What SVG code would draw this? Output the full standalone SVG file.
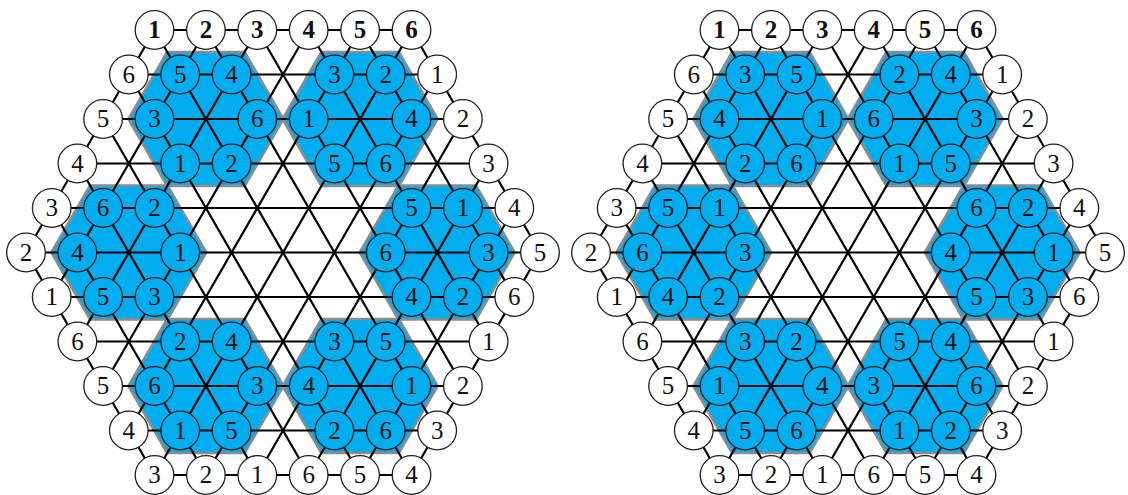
<svg xmlns="http://www.w3.org/2000/svg" xmlns:xlink="http://www.w3.org/1999/xlink" width="1128" height="495" viewBox="0 0 1128 495">
<style>
.w circle{fill:#fff;stroke:#1e1e1e;stroke-width:1.3}
.b circle{fill:#00aeef;stroke:#1a1a1a;stroke-width:1.3}
text{font-family:"Liberation Serif","DejaVu Serif",serif;font-size:25px;text-anchor:middle;fill:#111}
.bd text{font-weight:bold}
.hex{fill:#00aeef;stroke:#8c8c8c;stroke-width:2.5;stroke-linejoin:round}
.ln{stroke:#000;stroke-width:2.2;fill:none}
</style>
<defs>
<polygon id="hx" class="hex" points="-77.5,0 -38.75,-67.1 38.75,-67.1 77.5,0 38.75,67.1 -38.75,67.1"/>
<path id="lat" class="ln" d="M-128.5,-222.5H128.5M-154.2,-178H154.2M-179.9,-133.5H179.9M-205.6,-89H205.6M-231.3,-44.5H231.3M-257,0H257M-231.3,44.5H231.3M-205.6,89H205.6M-179.9,133.5H179.9M-154.2,178H154.2M-128.5,222.5H128.5M-257,0L-128.5,222.5M-231.3,-44.5L-77.1,222.5M-205.6,-89L-25.7,222.5M-179.9,-133.5L25.7,222.5M-154.2,-178L77.1,222.5M-128.5,-222.5L128.5,222.5M-77.1,-222.5L154.2,178M-25.7,-222.5L179.9,133.5M25.7,-222.5L205.6,89M77.1,-222.5L231.3,44.5M128.5,-222.5L257,0M257,0L128.5,222.5M231.3,-44.5L77.1,222.5M205.6,-89L25.7,222.5M179.9,-133.5L-25.7,222.5M154.2,-178L-77.1,222.5M128.5,-222.5L-128.5,222.5M77.1,-222.5L-154.2,178M25.7,-222.5L-179.9,133.5M-25.7,-222.5L-205.6,89M-77.1,-222.5L-231.3,44.5M-128.5,-222.5L-257,0"/>
</defs>
<g id="regions">
<g transform="translate(283,252.5)">
<use href="#hx" x="-77.1" y="-133.5"/><use href="#hx" x="77.1" y="-133.5"/>
<use href="#hx" x="-154.2" y="0"/><use href="#hx" x="154.2" y="0"/>
<use href="#hx" x="-77.1" y="133.5"/><use href="#hx" x="77.1" y="133.5"/>
</g>
<g transform="translate(848,252.5)">
<use href="#hx" x="-77.1" y="-133.5"/><use href="#hx" x="77.1" y="-133.5"/>
<use href="#hx" x="-154.2" y="0"/><use href="#hx" x="154.2" y="0"/>
<use href="#hx" x="-77.1" y="133.5"/><use href="#hx" x="77.1" y="133.5"/>
</g>
</g>
<g id="connectors">
<use href="#lat" transform="translate(283,252.5)"/>
<use href="#lat" transform="translate(848,252.5)"/>
</g>
<g id="figA" transform="translate(283,252.5)">
<g id="A-o01" class="w bd" transform="translate(-128.5,-222.5)"><circle r="19.3"/><text y="8.2">1</text></g>
<g id="A-o02" class="w bd" transform="translate(-77.1,-222.5)"><circle r="19.3"/><text y="8.2">2</text></g>
<g id="A-o03" class="w bd" transform="translate(-25.7,-222.5)"><circle r="19.3"/><text y="8.2">3</text></g>
<g id="A-o04" class="w bd" transform="translate(25.7,-222.5)"><circle r="19.3"/><text y="8.2">4</text></g>
<g id="A-o05" class="w bd" transform="translate(77.1,-222.5)"><circle r="19.3"/><text y="8.2">5</text></g>
<g id="A-o06" class="w bd" transform="translate(128.5,-222.5)"><circle r="19.3"/><text y="8.2">6</text></g>
<g id="A-o07" class="w" transform="translate(154.2,-178)"><circle r="19.3"/><text y="8.2">1</text></g>
<g id="A-o08" class="w" transform="translate(179.9,-133.5)"><circle r="19.3"/><text y="8.2">2</text></g>
<g id="A-o09" class="w" transform="translate(205.6,-89)"><circle r="19.3"/><text y="8.2">3</text></g>
<g id="A-o10" class="w" transform="translate(231.3,-44.5)"><circle r="19.3"/><text y="8.2">4</text></g>
<g id="A-o11" class="w" transform="translate(257,0)"><circle r="19.3"/><text y="8.2">5</text></g>
<g id="A-o12" class="w" transform="translate(231.3,44.5)"><circle r="19.3"/><text y="8.2">6</text></g>
<g id="A-o13" class="w" transform="translate(205.6,89)"><circle r="19.3"/><text y="8.2">1</text></g>
<g id="A-o14" class="w" transform="translate(179.9,133.5)"><circle r="19.3"/><text y="8.2">2</text></g>
<g id="A-o15" class="w" transform="translate(154.2,178)"><circle r="19.3"/><text y="8.2">3</text></g>
<g id="A-o16" class="w" transform="translate(128.5,222.5)"><circle r="19.3"/><text y="8.2">4</text></g>
<g id="A-o17" class="w" transform="translate(77.1,222.5)"><circle r="19.3"/><text y="8.2">5</text></g>
<g id="A-o18" class="w" transform="translate(25.7,222.5)"><circle r="19.3"/><text y="8.2">6</text></g>
<g id="A-o19" class="w" transform="translate(-25.7,222.5)"><circle r="19.3"/><text y="8.2">1</text></g>
<g id="A-o20" class="w" transform="translate(-77.1,222.5)"><circle r="19.3"/><text y="8.2">2</text></g>
<g id="A-o21" class="w" transform="translate(-128.5,222.5)"><circle r="19.3"/><text y="8.2">3</text></g>
<g id="A-o22" class="w" transform="translate(-154.2,178)"><circle r="19.3"/><text y="8.2">4</text></g>
<g id="A-o23" class="w" transform="translate(-179.9,133.5)"><circle r="19.3"/><text y="8.2">5</text></g>
<g id="A-o24" class="w" transform="translate(-205.6,89)"><circle r="19.3"/><text y="8.2">6</text></g>
<g id="A-o25" class="w" transform="translate(-231.3,44.5)"><circle r="19.3"/><text y="8.2">1</text></g>
<g id="A-o26" class="w" transform="translate(-257,0)"><circle r="19.3"/><text y="8.2">2</text></g>
<g id="A-o27" class="w" transform="translate(-231.3,-44.5)"><circle r="19.3"/><text y="8.2">3</text></g>
<g id="A-o28" class="w" transform="translate(-205.6,-89)"><circle r="19.3"/><text y="8.2">4</text></g>
<g id="A-o29" class="w" transform="translate(-179.9,-133.5)"><circle r="19.3"/><text y="8.2">5</text></g>
<g id="A-o30" class="w" transform="translate(-154.2,-178)"><circle r="19.3"/><text y="8.2">6</text></g>
<g id="A-tl-nw" class="b" transform="translate(-102.8,-178)"><circle r="19.3"/><text y="8.2">5</text></g>
<g id="A-tl-ne" class="b" transform="translate(-51.4,-178)"><circle r="19.3"/><text y="8.2">4</text></g>
<g id="A-tl-w" class="b" transform="translate(-128.5,-133.5)"><circle r="19.3"/><text y="8.2">3</text></g>
<g id="A-tl-e" class="b" transform="translate(-25.7,-133.5)"><circle r="19.3"/><text y="8.2">6</text></g>
<g id="A-tl-sw" class="b" transform="translate(-102.8,-89)"><circle r="19.3"/><text y="8.2">1</text></g>
<g id="A-tl-se" class="b" transform="translate(-51.4,-89)"><circle r="19.3"/><text y="8.2">2</text></g>
<g id="A-tr-nw" class="b" transform="translate(51.4,-178)"><circle r="19.3"/><text y="8.2">3</text></g>
<g id="A-tr-ne" class="b" transform="translate(102.8,-178)"><circle r="19.3"/><text y="8.2">2</text></g>
<g id="A-tr-w" class="b" transform="translate(25.7,-133.5)"><circle r="19.3"/><text y="8.2">1</text></g>
<g id="A-tr-e" class="b" transform="translate(128.5,-133.5)"><circle r="19.3"/><text y="8.2">4</text></g>
<g id="A-tr-sw" class="b" transform="translate(51.4,-89)"><circle r="19.3"/><text y="8.2">5</text></g>
<g id="A-tr-se" class="b" transform="translate(102.8,-89)"><circle r="19.3"/><text y="8.2">6</text></g>
<g id="A-ml-nw" class="b" transform="translate(-179.9,-44.5)"><circle r="19.3"/><text y="8.2">6</text></g>
<g id="A-ml-ne" class="b" transform="translate(-128.5,-44.5)"><circle r="19.3"/><text y="8.2">2</text></g>
<g id="A-ml-w" class="b" transform="translate(-205.6,0)"><circle r="19.3"/><text y="8.2">4</text></g>
<g id="A-ml-e" class="b" transform="translate(-102.8,0)"><circle r="19.3"/><text y="8.2">1</text></g>
<g id="A-ml-sw" class="b" transform="translate(-179.9,44.5)"><circle r="19.3"/><text y="8.2">5</text></g>
<g id="A-ml-se" class="b" transform="translate(-128.5,44.5)"><circle r="19.3"/><text y="8.2">3</text></g>
<g id="A-mr-nw" class="b" transform="translate(128.5,-44.5)"><circle r="19.3"/><text y="8.2">5</text></g>
<g id="A-mr-ne" class="b" transform="translate(179.9,-44.5)"><circle r="19.3"/><text y="8.2">1</text></g>
<g id="A-mr-w" class="b" transform="translate(102.8,0)"><circle r="19.3"/><text y="8.2">6</text></g>
<g id="A-mr-e" class="b" transform="translate(205.6,0)"><circle r="19.3"/><text y="8.2">3</text></g>
<g id="A-mr-sw" class="b" transform="translate(128.5,44.5)"><circle r="19.3"/><text y="8.2">4</text></g>
<g id="A-mr-se" class="b" transform="translate(179.9,44.5)"><circle r="19.3"/><text y="8.2">2</text></g>
<g id="A-bl-nw" class="b" transform="translate(-102.8,89)"><circle r="19.3"/><text y="8.2">2</text></g>
<g id="A-bl-ne" class="b" transform="translate(-51.4,89)"><circle r="19.3"/><text y="8.2">4</text></g>
<g id="A-bl-w" class="b" transform="translate(-128.5,133.5)"><circle r="19.3"/><text y="8.2">6</text></g>
<g id="A-bl-e" class="b" transform="translate(-25.7,133.5)"><circle r="19.3"/><text y="8.2">3</text></g>
<g id="A-bl-sw" class="b" transform="translate(-102.8,178)"><circle r="19.3"/><text y="8.2">1</text></g>
<g id="A-bl-se" class="b" transform="translate(-51.4,178)"><circle r="19.3"/><text y="8.2">5</text></g>
<g id="A-br-nw" class="b" transform="translate(51.4,89)"><circle r="19.3"/><text y="8.2">3</text></g>
<g id="A-br-ne" class="b" transform="translate(102.8,89)"><circle r="19.3"/><text y="8.2">5</text></g>
<g id="A-br-w" class="b" transform="translate(25.7,133.5)"><circle r="19.3"/><text y="8.2">4</text></g>
<g id="A-br-e" class="b" transform="translate(128.5,133.5)"><circle r="19.3"/><text y="8.2">1</text></g>
<g id="A-br-sw" class="b" transform="translate(51.4,178)"><circle r="19.3"/><text y="8.2">2</text></g>
<g id="A-br-se" class="b" transform="translate(102.8,178)"><circle r="19.3"/><text y="8.2">6</text></g>
</g>
<g id="figB" transform="translate(848,252.5)">
<g id="B-o01" class="w bd" transform="translate(-128.5,-222.5)"><circle r="19.3"/><text y="8.2">1</text></g>
<g id="B-o02" class="w bd" transform="translate(-77.1,-222.5)"><circle r="19.3"/><text y="8.2">2</text></g>
<g id="B-o03" class="w bd" transform="translate(-25.7,-222.5)"><circle r="19.3"/><text y="8.2">3</text></g>
<g id="B-o04" class="w bd" transform="translate(25.7,-222.5)"><circle r="19.3"/><text y="8.2">4</text></g>
<g id="B-o05" class="w bd" transform="translate(77.1,-222.5)"><circle r="19.3"/><text y="8.2">5</text></g>
<g id="B-o06" class="w bd" transform="translate(128.5,-222.5)"><circle r="19.3"/><text y="8.2">6</text></g>
<g id="B-o07" class="w" transform="translate(154.2,-178)"><circle r="19.3"/><text y="8.2">1</text></g>
<g id="B-o08" class="w" transform="translate(179.9,-133.5)"><circle r="19.3"/><text y="8.2">2</text></g>
<g id="B-o09" class="w" transform="translate(205.6,-89)"><circle r="19.3"/><text y="8.2">3</text></g>
<g id="B-o10" class="w" transform="translate(231.3,-44.5)"><circle r="19.3"/><text y="8.2">4</text></g>
<g id="B-o11" class="w" transform="translate(257,0)"><circle r="19.3"/><text y="8.2">5</text></g>
<g id="B-o12" class="w" transform="translate(231.3,44.5)"><circle r="19.3"/><text y="8.2">6</text></g>
<g id="B-o13" class="w" transform="translate(205.6,89)"><circle r="19.3"/><text y="8.2">1</text></g>
<g id="B-o14" class="w" transform="translate(179.9,133.5)"><circle r="19.3"/><text y="8.2">2</text></g>
<g id="B-o15" class="w" transform="translate(154.2,178)"><circle r="19.3"/><text y="8.2">3</text></g>
<g id="B-o16" class="w" transform="translate(128.5,222.5)"><circle r="19.3"/><text y="8.2">4</text></g>
<g id="B-o17" class="w" transform="translate(77.1,222.5)"><circle r="19.3"/><text y="8.2">5</text></g>
<g id="B-o18" class="w" transform="translate(25.7,222.5)"><circle r="19.3"/><text y="8.2">6</text></g>
<g id="B-o19" class="w" transform="translate(-25.7,222.5)"><circle r="19.3"/><text y="8.2">1</text></g>
<g id="B-o20" class="w" transform="translate(-77.1,222.5)"><circle r="19.3"/><text y="8.2">2</text></g>
<g id="B-o21" class="w" transform="translate(-128.5,222.5)"><circle r="19.3"/><text y="8.2">3</text></g>
<g id="B-o22" class="w" transform="translate(-154.2,178)"><circle r="19.3"/><text y="8.2">4</text></g>
<g id="B-o23" class="w" transform="translate(-179.9,133.5)"><circle r="19.3"/><text y="8.2">5</text></g>
<g id="B-o24" class="w" transform="translate(-205.6,89)"><circle r="19.3"/><text y="8.2">6</text></g>
<g id="B-o25" class="w" transform="translate(-231.3,44.5)"><circle r="19.3"/><text y="8.2">1</text></g>
<g id="B-o26" class="w" transform="translate(-257,0)"><circle r="19.3"/><text y="8.2">2</text></g>
<g id="B-o27" class="w" transform="translate(-231.3,-44.5)"><circle r="19.3"/><text y="8.2">3</text></g>
<g id="B-o28" class="w" transform="translate(-205.6,-89)"><circle r="19.3"/><text y="8.2">4</text></g>
<g id="B-o29" class="w" transform="translate(-179.9,-133.5)"><circle r="19.3"/><text y="8.2">5</text></g>
<g id="B-o30" class="w" transform="translate(-154.2,-178)"><circle r="19.3"/><text y="8.2">6</text></g>
<g id="B-tl-nw" class="b" transform="translate(-102.8,-178)"><circle r="19.3"/><text y="8.2">3</text></g>
<g id="B-tl-ne" class="b" transform="translate(-51.4,-178)"><circle r="19.3"/><text y="8.2">5</text></g>
<g id="B-tl-w" class="b" transform="translate(-128.5,-133.5)"><circle r="19.3"/><text y="8.2">4</text></g>
<g id="B-tl-e" class="b" transform="translate(-25.7,-133.5)"><circle r="19.3"/><text y="8.2">1</text></g>
<g id="B-tl-sw" class="b" transform="translate(-102.8,-89)"><circle r="19.3"/><text y="8.2">2</text></g>
<g id="B-tl-se" class="b" transform="translate(-51.4,-89)"><circle r="19.3"/><text y="8.2">6</text></g>
<g id="B-tr-nw" class="b" transform="translate(51.4,-178)"><circle r="19.3"/><text y="8.2">2</text></g>
<g id="B-tr-ne" class="b" transform="translate(102.8,-178)"><circle r="19.3"/><text y="8.2">4</text></g>
<g id="B-tr-w" class="b" transform="translate(25.7,-133.5)"><circle r="19.3"/><text y="8.2">6</text></g>
<g id="B-tr-e" class="b" transform="translate(128.5,-133.5)"><circle r="19.3"/><text y="8.2">3</text></g>
<g id="B-tr-sw" class="b" transform="translate(51.4,-89)"><circle r="19.3"/><text y="8.2">1</text></g>
<g id="B-tr-se" class="b" transform="translate(102.8,-89)"><circle r="19.3"/><text y="8.2">5</text></g>
<g id="B-ml-nw" class="b" transform="translate(-179.9,-44.5)"><circle r="19.3"/><text y="8.2">5</text></g>
<g id="B-ml-ne" class="b" transform="translate(-128.5,-44.5)"><circle r="19.3"/><text y="8.2">1</text></g>
<g id="B-ml-w" class="b" transform="translate(-205.6,0)"><circle r="19.3"/><text y="8.2">6</text></g>
<g id="B-ml-e" class="b" transform="translate(-102.8,0)"><circle r="19.3"/><text y="8.2">3</text></g>
<g id="B-ml-sw" class="b" transform="translate(-179.9,44.5)"><circle r="19.3"/><text y="8.2">4</text></g>
<g id="B-ml-se" class="b" transform="translate(-128.5,44.5)"><circle r="19.3"/><text y="8.2">2</text></g>
<g id="B-mr-nw" class="b" transform="translate(128.5,-44.5)"><circle r="19.3"/><text y="8.2">6</text></g>
<g id="B-mr-ne" class="b" transform="translate(179.9,-44.5)"><circle r="19.3"/><text y="8.2">2</text></g>
<g id="B-mr-w" class="b" transform="translate(102.8,0)"><circle r="19.3"/><text y="8.2">4</text></g>
<g id="B-mr-e" class="b" transform="translate(205.6,0)"><circle r="19.3"/><text y="8.2">1</text></g>
<g id="B-mr-sw" class="b" transform="translate(128.5,44.5)"><circle r="19.3"/><text y="8.2">5</text></g>
<g id="B-mr-se" class="b" transform="translate(179.9,44.5)"><circle r="19.3"/><text y="8.2">3</text></g>
<g id="B-bl-nw" class="b" transform="translate(-102.8,89)"><circle r="19.3"/><text y="8.2">3</text></g>
<g id="B-bl-ne" class="b" transform="translate(-51.4,89)"><circle r="19.3"/><text y="8.2">2</text></g>
<g id="B-bl-w" class="b" transform="translate(-128.5,133.5)"><circle r="19.3"/><text y="8.2">1</text></g>
<g id="B-bl-e" class="b" transform="translate(-25.7,133.5)"><circle r="19.3"/><text y="8.2">4</text></g>
<g id="B-bl-sw" class="b" transform="translate(-102.8,178)"><circle r="19.3"/><text y="8.2">5</text></g>
<g id="B-bl-se" class="b" transform="translate(-51.4,178)"><circle r="19.3"/><text y="8.2">6</text></g>
<g id="B-br-nw" class="b" transform="translate(51.4,89)"><circle r="19.3"/><text y="8.2">5</text></g>
<g id="B-br-ne" class="b" transform="translate(102.8,89)"><circle r="19.3"/><text y="8.2">4</text></g>
<g id="B-br-w" class="b" transform="translate(25.7,133.5)"><circle r="19.3"/><text y="8.2">3</text></g>
<g id="B-br-e" class="b" transform="translate(128.5,133.5)"><circle r="19.3"/><text y="8.2">6</text></g>
<g id="B-br-sw" class="b" transform="translate(51.4,178)"><circle r="19.3"/><text y="8.2">1</text></g>
<g id="B-br-se" class="b" transform="translate(102.8,178)"><circle r="19.3"/><text y="8.2">2</text></g>
</g>
</svg>
